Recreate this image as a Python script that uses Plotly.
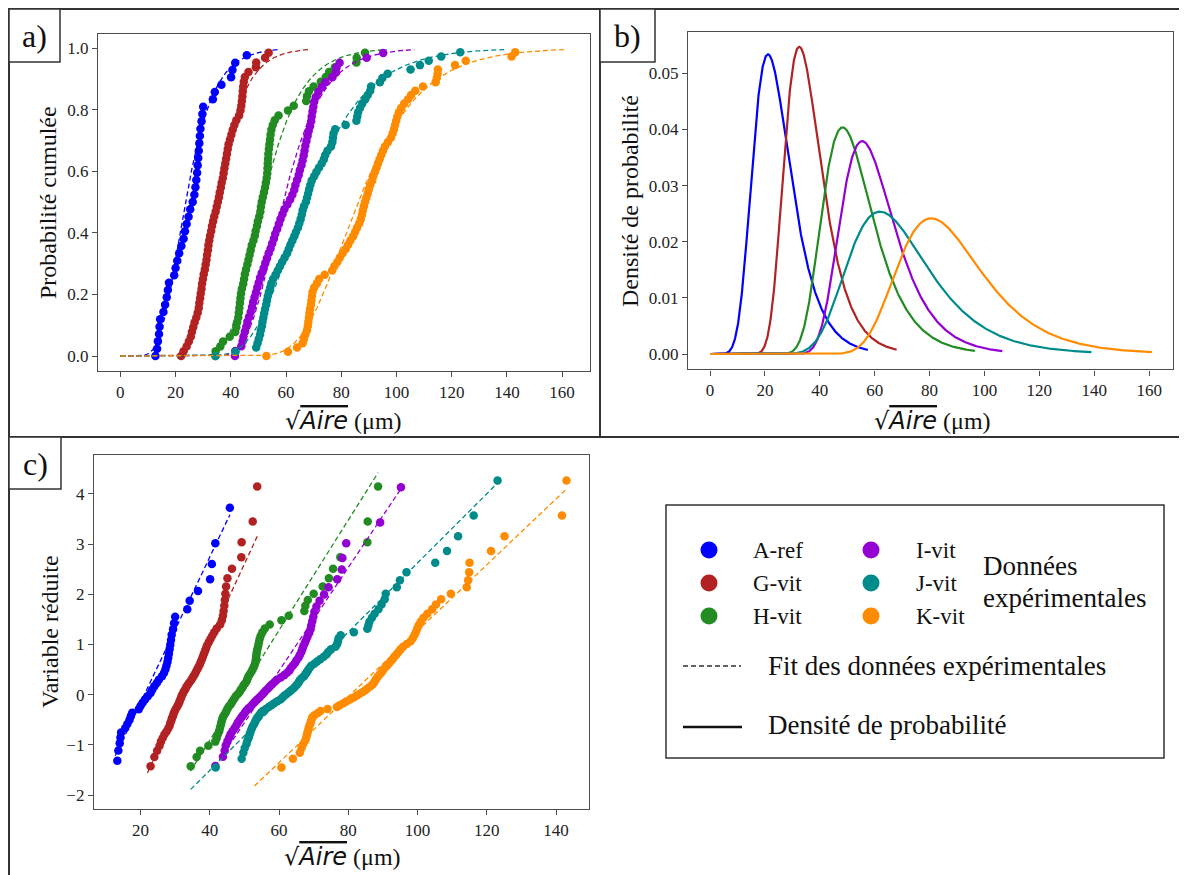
import numpy as np
import plotly.graph_objects as go

# The page body adds an 8px margin; the figure is drawn 8px in from the top-left.
OFF = 8
W, H = 1187 - OFF, 875 - OFF

series_names = ["A-ref", "G-vit", "H-vit", "I-vit", "J-vit", "K-vit"]
series_colors = ["#0000FF", "#B22222", "#228B22", "#9400D3", "#008B8B", "#FF8C00"]

# sorted sqrt(Aire) values (µm)
x_A_ref = [12.7, 13.3, 13.6, 14.0, 14.2, 14.4, 15.6, 16.2, 16.8, 17.2, 17.6, 19.5, 20.0, 20.6,
           21.3, 22.1, 22.9, 23.4, 24.0, 24.7, 25.3, 26.2, 26.8, 27.2, 27.5, 27.8, 28.0, 28.2,
           28.4, 28.6, 28.8, 29.0, 29.4, 29.7, 30.0, 33.5, 34.2, 36.6, 40.1, 40.6, 41.6, 45.8]
x_G_vit = [22.0, 22.9, 24.0, 24.8, 25.5, 25.9, 26.4, 26.9, 27.5, 28.0, 28.4, 28.6, 28.9, 29.1,
           29.4, 29.6, 29.9, 30.2, 30.6, 30.9, 31.2, 31.4, 31.7, 31.9, 32.2, 32.5, 32.9, 33.2,
           33.6, 34.0, 34.5, 34.9, 35.3, 35.7, 36.0, 36.4, 36.7, 37.1, 37.4, 37.7, 38.0, 38.3,
           38.6, 38.9, 39.2, 39.7, 40.2, 40.7, 41.3, 42.0, 43.0, 43.5, 43.8, 44.0, 44.2, 44.35,
           44.5, 44.7, 45.1, 46.4, 49.1, 49.2, 52.4, 53.7]
x_H_vit = [34.4, 34.5, 36.2, 37.2, 39.6, 41.6, 42.0, 42.3, 42.7, 42.9, 43.1, 43.3, 43.5, 43.7,
           44.0, 44.5, 44.8, 45.1, 45.5, 46.0, 46.4, 46.8, 47.2, 47.6, 48.2, 48.7, 49.0, 49.5,
           49.8, 50.3, 50.7, 50.9, 51.2, 51.6, 52.0, 52.4, 52.7, 53.0, 53.2, 53.3, 53.4, 53.5,
           53.6, 53.8, 54.0, 54.2, 54.4, 54.7, 55.2, 55.9, 57.3, 60.7, 62.8, 67.3, 67.6, 68.3,
           70.0, 72.6, 74.4, 75.6, 77.7, 85.5, 85.6, 88.6]
x_I_vit = [41.6, 41.5, 43.8, 44.3, 44.6, 45.1, 45.6, 46.0, 46.6, 47.2, 47.7, 48.1, 48.6, 49.1,
           49.6, 50.1, 50.6, 51.2, 51.9, 52.5, 53.1, 53.7, 54.4, 55.0, 55.6, 56.1, 56.8, 57.4,
           58.0, 58.7, 59.4, 60.5, 61.5, 62.3, 63.0, 63.4, 64.0, 64.6, 65.0, 65.6, 66.0, 66.4,
           66.7, 67.0, 67.4, 67.8, 68.2, 68.7, 69.1, 69.3, 69.6, 69.9, 70.2, 70.8, 71.7, 73.0,
           74.3, 76.8, 78.1, 78.3, 79.4, 89.2, 95.2]
x_J_vit = [34.5, 41.7, 49.2, 49.7, 50.1, 50.6, 50.9, 51.3, 51.5, 51.8, 52.1, 52.4, 52.8, 53.1,
           53.4, 53.8, 54.3, 54.7, 55.3, 56.2, 57.0, 57.8, 58.6, 59.5, 60.4, 61.0, 61.6, 62.3,
           63.0, 63.6, 64.3, 64.8, 65.3, 65.7, 66.0, 66.5, 67.2, 67.6, 68.0, 68.4, 68.8, 69.3,
           70.2, 71.0, 71.9, 72.9, 73.7, 74.2, 75.0, 76.3, 76.8, 77.0, 77.2, 77.8, 81.6, 85.5,
           85.8, 86.1, 86.8, 87.6, 88.7, 89.6, 90.5, 90.8, 94.0, 94.9, 96.8, 105.1, 108.5, 111.7,
           116.2, 123.1]
x_K_vit = [52.9, 60.7, 64.0, 66.0, 66.5, 67.0, 67.6, 67.9, 68.1, 68.3, 68.5, 68.7, 69.0, 69.2,
           69.4, 69.6, 70.2, 71.2, 72.0, 74.0, 76.7, 77.5, 78.6, 79.5, 80.5, 81.6, 82.5, 83.3,
           84.3, 85.0, 85.7, 86.5, 87.1, 87.5, 87.8, 88.2, 88.6, 89.1, 89.6, 90.0, 90.5, 91.2,
           91.6, 92.2, 92.8, 93.3, 93.9, 94.5, 95.1, 95.8, 96.9, 98.0, 98.6, 99.1, 99.5, 99.9,
           100.3, 100.9, 101.7, 102.8, 104.2, 105.3, 106.8, 109.6, 114.2, 114.6, 114.9, 115.0,
           121.2, 125.1, 141.7, 143.0]
samples = [x_A_ref, x_G_vit, x_H_vit, x_I_vit, x_J_vit, x_K_vit]

# Gumbel fit parameters (location, scale) and fitted-curve x extent
gumbel_loc = [21.1, 32.5, 48.3, 55.4, 61.9, 80.6]
gumbel_scale = [6.89, 6.72, 9.11, 9.70, 14.51, 15.22]
fit_x_end = [57.5, 68.0, 96.5, 106.5, 139.0, 161.0]


def px(v):
    return (v - OFF) / W


def py(v):
    return 1 - (v - OFF) / H


SERIF = "Liberation Serif"
DASH = "5px,3px"

fig = go.Figure()
for name, col, xs, mu, beta, xend in zip(series_names, series_colors, samples,
                                         gumbel_loc, gumbel_scale, fit_x_end):
    xs = np.sort(np.asarray(xs, dtype=float))
    n = len(xs)
    F = np.arange(n) / n
    # panel a : empirical + fitted cumulative probability
    fig.add_trace(go.Scatter(x=xs, y=F, mode="markers", name=name,
                             marker=dict(color=col, size=8.5, line=dict(width=0)),
                             xaxis="x", yaxis="y", showlegend=False))
    xf = np.linspace(0, xend, 500)
    z = (xf - mu) / beta
    fig.add_trace(go.Scatter(x=xf, y=np.exp(-np.exp(-z)), mode="lines",
                             line=dict(color=col, width=1.3, dash=DASH),
                             xaxis="x", yaxis="y", showlegend=False, hoverinfo="skip"))
    # panel b : probability density
    fig.add_trace(go.Scatter(x=xf, y=np.exp(-z - np.exp(-z)) / beta, mode="lines",
                             line=dict(color=col, width=2.2),
                             xaxis="x2", yaxis="y2", showlegend=False))
    # panel c : reduced variable
    m = F > 0
    fig.add_trace(go.Scatter(x=xs[m], y=-np.log(-np.log(F[m])), mode="markers",
                             marker=dict(color=col, size=8.5, line=dict(width=0)),
                             xaxis="x3", yaxis="y3", showlegend=False))
    xl = np.array([xs.min(), xs.max()])
    fig.add_trace(go.Scatter(x=xl, y=(xl - mu) / beta, mode="lines",
                             line=dict(color=col, width=1.3, dash=DASH),
                             xaxis="x3", yaxis="y3", showlegend=False, hoverinfo="skip"))

axis_common = dict(showline=True, mirror=True, linecolor="#4d4d4d", linewidth=1.3,
                   ticks="outside", ticklen=5, tickwidth=1.2, tickcolor="#4d4d4d",
                   showgrid=False, zeroline=False,
                   tickfont=dict(family=SERIF, size=17, color="#222222"))

fig.update_layout(
    width=W, height=H, autosize=False,
    margin=dict(l=0, r=0, t=0, b=0),
    paper_bgcolor="white", plot_bgcolor="white",
    xaxis=dict(domain=[px(98), px(590)], range=[-8.1, 170.1], tickvals=list(range(0, 161, 20)),
               anchor="y", **axis_common),
    yaxis=dict(domain=[py(371), py(34)], range=[-0.0487, 1.0455],
               tickvals=[0, 0.2, 0.4, 0.6, 0.8, 1.0], tickformat=".1f", anchor="x", **axis_common),
    xaxis2=dict(domain=[px(688), px(1173)], range=[-8.04, 168.7], tickvals=list(range(0, 161, 20)),
                anchor="y2", **axis_common),
    yaxis2=dict(domain=[py(369.4), py(31.8)], range=[-0.00274, 0.0574],
                tickvals=[0, 0.01, 0.02, 0.03, 0.04, 0.05], tickformat=".2f", anchor="x2",
                **axis_common),
    xaxis3=dict(domain=[px(94), px(589)], range=[6.57, 149.5], tickvals=list(range(20, 141, 20)),
                anchor="y3", **axis_common),
    yaxis3=dict(domain=[py(809), py(455)], range=[-2.279, 4.777], tickvals=list(range(-2, 5)),
                anchor="x3", **axis_common),
)

shapes = []
ann = []


def hline(x0, x1, y, color="#333333", width=2, dash=None):
    d = dict(type="line", xref="paper", yref="paper", x0=px(x0), x1=px(x1), y0=py(y), y1=py(y),
             line=dict(color=color, width=width))
    if dash:
        d["line"]["dash"] = dash
    shapes.append(d)


def vline(x, y0, y1, color="#333333", width=2):
    shapes.append(dict(type="line", xref="paper", yref="paper", x0=px(x), x1=px(x),
                       y0=py(y0), y1=py(y1), line=dict(color=color, width=width)))


def rect(x0, y0, x1, y1, color="#333333", width=1.5):
    shapes.append(dict(type="rect", xref="paper", yref="paper", x0=px(x0), x1=px(x1),
                       y0=py(y1), y1=py(y0), line=dict(color=color, width=width),
                       fillcolor="white"))


def text(x, y, s, size, anchor="center", angle=0, family=SERIF):
    ann.append(dict(xref="paper", yref="paper", x=px(x), y=py(y), text=s, showarrow=False,
                    xanchor=anchor, yanchor="middle", textangle=angle,
                    font=dict(family=family, size=size, color="#111111")))


# panel frames
hline(8, 1187, 9)
vline(9, 8, 875)
vline(600, 8, 437)
hline(8, 1187, 437)

# panel letters
for (x0, y0, x1, y1, lab) in [(9, 9, 60, 62, "a)"), (600, 9, 655, 62, "b)"),
                              (9, 437, 61, 489, "c)")]:
    rect(x0, y0, x1, y1, width=1.5)
    text((x0 + x1) / 2, (y0 + y1) / 2 + 1, lab, 32)

# axis titles
xtitle = ("<span style='font-family:DejaVu Sans'>√<i><span style='text-decoration:overline'>"
          "Aire</span></i></span> (μm)")
text(343, 421, xtitle, 24)
text(932, 421, xtitle, 24)
text(342, 857, xtitle, 24)
text(48, 203, "Probabilité cumulée", 24, angle=-90)
text(630, 201, "Densité de probabilité", 24, angle=-90)
text(50, 632, "Variable réduite", 24, angle=-90)

# legend
rect(666, 505, 1164, 758, width=1.5)
rows = [550, 583, 616]
for k, (name, col) in enumerate(zip(series_names, series_colors)):
    cx = 709 if k < 3 else 871
    lx = 751 if k < 3 else 914
    cy = rows[k % 3]
    shapes.append(dict(type="circle", xref="paper", yref="paper",
                       x0=px(cx - 8.5), x1=px(cx + 8.5), y0=py(cy + 8.5), y1=py(cy - 8.5),
                       fillcolor=col, line=dict(width=0)))
    text(lx, cy, name, 23, anchor="left")
text(981, 566, "Données", 27, anchor="left")
text(981, 598, "expérimentales", 27, anchor="left")
hline(683, 741, 666, color="#333333", width=1.3, dash=DASH)
text(766, 666, "Fit des données expérimentales", 27, anchor="left")
hline(683, 742, 727, color="#111111", width=2.6)
text(766, 725, "Densité de probabilité", 27, anchor="left")

fig.update_layout(shapes=shapes, annotations=ann)
fig.write_html("out.html")
